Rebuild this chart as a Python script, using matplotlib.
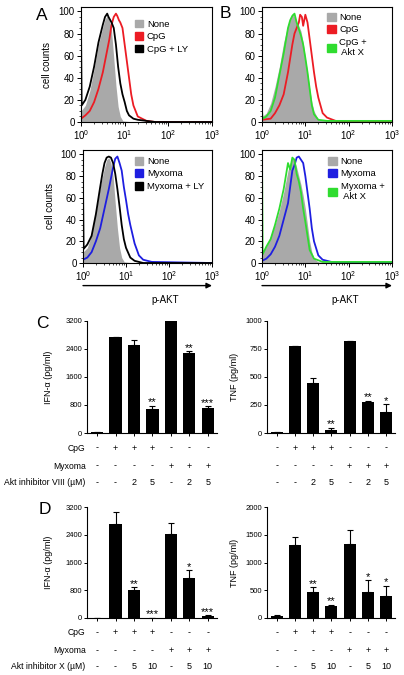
import matplotlib
matplotlib.use('Agg')
import matplotlib.pyplot as plt
from matplotlib.patches import Patch
from matplotlib.ticker import MultipleLocator, NullFormatter
import numpy as np

plt.rcParams['font.family'] = ['Liberation Sans', 'DejaVu Sans']
plt.rcParams['axes.linewidth'] = 0.8

# ---- histogram data (x in log10 units, y = cell counts) ----
none_a_x = [0, 0.1, 0.2, 0.3, 0.4, 0.5, 0.55, 0.6, 0.65, 0.7, 0.75, 0.8, 0.85, 0.9, 0.96, 1.2, 3.0]
none_a_y = [10, 15, 28, 48, 70, 86, 93, 96, 92, 82, 58, 33, 14, 5, 1, 0, 0]
cpg_a_x = [0, 0.1, 0.2, 0.3, 0.4, 0.5, 0.6, 0.65, 0.7, 0.75, 0.8, 0.83, 0.87, 0.9, 0.95, 1.0, 1.05, 1.1, 1.15, 1.2, 1.3, 1.5, 1.7, 3.0]
cpg_a_y = [3, 6, 10, 18, 30, 45, 65, 75, 88, 95, 98, 96, 92, 90, 85, 70, 55, 40, 25, 15, 5, 1, 0, 0]
cpgly_a_x = [0, 0.015, 0.1, 0.2, 0.3, 0.4, 0.5, 0.55, 0.6, 0.63, 0.7, 0.75, 0.8, 0.85, 0.9, 0.95, 1.0, 1.05, 1.1, 1.2, 1.3, 1.5, 1.7, 3.0]
cpgly_a_y = [88, 15, 20, 32, 50, 72, 88, 95, 98, 95, 90, 85, 70, 50, 35, 25, 18, 10, 6, 3, 2, 1, 0, 0]

none_b_x = [0, 0.1, 0.2, 0.3, 0.4, 0.5, 0.6, 0.65, 0.7, 0.75, 0.8, 0.85, 0.9, 0.95, 1.0, 1.05, 1.1, 1.15, 1.2, 1.3, 3.0]
none_b_y = [5, 8, 17, 32, 50, 72, 88, 94, 98, 95, 90, 87, 82, 72, 58, 45, 30, 18, 10, 2, 0]
cpg_b_x = [0, 0.2, 0.3, 0.4, 0.5, 0.6, 0.7, 0.75, 0.8, 0.85, 0.88, 0.92, 0.95, 1.0, 1.05, 1.1, 1.15, 1.2, 1.25, 1.3, 1.4, 1.5, 1.7, 3.0]
cpg_b_y = [2, 3, 8, 15, 25, 45, 70, 80, 85, 90, 97, 95, 87, 97, 90, 75, 60, 45, 32, 22, 8, 4, 1, 0]
aktx_b_x = [0, 0.015, 0.1, 0.2, 0.3, 0.4, 0.5, 0.6, 0.65, 0.7, 0.75, 0.8, 0.85, 0.9, 0.95, 1.0, 1.05, 1.1, 1.15, 1.2, 1.3, 1.5, 2.0, 3.0]
aktx_b_y = [10, 3, 5, 10, 22, 42, 62, 85, 92, 96, 98, 90, 84, 78, 70, 58, 45, 30, 15, 7, 2, 1, 1, 1]

none_c_x = [0, 0.1, 0.2, 0.3, 0.4, 0.5, 0.55, 0.6, 0.65, 0.7, 0.75, 0.8, 0.85, 0.9, 0.96, 1.2, 3.0]
none_c_y = [10, 14, 26, 46, 70, 88, 95, 97, 92, 80, 55, 32, 14, 5, 1, 0, 0]
myx_c_x = [0, 0.1, 0.2, 0.3, 0.4, 0.5, 0.6, 0.65, 0.7, 0.75, 0.8, 0.85, 0.9, 0.95, 1.0, 1.05, 1.1, 1.2, 1.3, 1.4, 1.6, 3.0]
myx_c_y = [3, 5, 10, 20, 32, 50, 68, 78, 88, 96, 98, 92, 85, 70, 58, 45, 35, 18, 7, 3, 1, 0]
myxly_c_x = [0, 0.015, 0.1, 0.2, 0.3, 0.4, 0.45, 0.5, 0.55, 0.6, 0.65, 0.7, 0.75, 0.8, 0.85, 0.9, 0.95, 1.0, 1.1, 1.2, 1.4, 3.0]
myxly_c_y = [72, 13, 17, 25, 45, 70, 82, 92, 97, 98, 97, 92, 82, 68, 52, 35, 22, 14, 5, 2, 0, 0]

none_d_x = [0, 0.1, 0.2, 0.3, 0.4, 0.5, 0.6, 0.65, 0.7, 0.75, 0.8, 0.85, 0.9, 0.95, 1.0, 1.05, 1.1, 1.15, 1.2, 1.3, 3.0]
none_d_y = [8, 15, 25, 35, 48, 65, 85, 92, 97, 94, 88, 80, 72, 62, 50, 35, 20, 10, 4, 1, 0]
myx_d_x = [0, 0.1, 0.2, 0.3, 0.4, 0.5, 0.6, 0.65, 0.7, 0.75, 0.8, 0.85, 0.9, 0.95, 1.0, 1.05, 1.1, 1.15, 1.2, 1.3, 1.4, 1.6, 3.0]
myx_d_y = [2, 4, 8, 15, 25, 40, 55, 70, 85, 90, 97, 98, 95, 92, 80, 65, 50, 32, 20, 7, 3, 1, 0]
aktx_d_x = [0, 0.015, 0.1, 0.2, 0.3, 0.4, 0.5, 0.55, 0.6, 0.65, 0.7, 0.75, 0.8, 0.85, 0.9, 0.95, 1.0, 1.05, 1.1, 1.2, 1.4, 2.0, 3.0]
aktx_d_y = [100, 8, 15, 22, 35, 50, 68, 80, 92, 86, 97, 95, 82, 75, 65, 50, 38, 25, 12, 4, 1, 1, 1]

# ---- bar data ----
ifn_viii = [15, 2750, 2510, 700, 3190, 2290, 720]
ifn_viii_err = [0, 0, 160, 75, 0, 50, 45]
ifn_viii_sig = ['', '', '', '**', '', '**', '***']
tnf_viii = [5, 776, 445, 28, 825, 275, 190]
tnf_viii_err = [0, 5, 48, 20, 0, 15, 68]
tnf_viii_sig = ['', '', '', '**', '', '**', '*']

ifn_x = [12, 2700, 800, 12, 2410, 1140, 55]
ifn_x_err = [0, 370, 90, 0, 330, 240, 20]
ifn_x_sig = ['', '', '**', '***', '', '*', '***']
tnf_x = [42, 1315, 460, 222, 1330, 466, 390]
tnf_x_err = [18, 150, 90, 18, 263, 210, 195]
tnf_x_sig = ['', '', '**', '**', '', '*', '*']

cpg_row = ['-', '+', '+', '+', '-', '-', '-']
myx_row = ['-', '-', '-', '-', '+', '+', '+']
viii_row = ['-', '-', '2', '5', '-', '2', '5']
x_row = ['-', '-', '5', '10', '-', '5', '10']

GRAY = '#a9a9a9'
RED = '#ec1c24'
BLUE = '#1e1ee0'
GREEN = '#2fdc2f'

W, H = 404, 675
fig = plt.figure(figsize=(W / 100, H / 100), dpi=100)


def box(x0, y0, x1, y1):
    return fig.add_axes([x0 / W, 1 - y1 / H, (x1 - x0) / W, (y1 - y0) / H])


def histo(ax, curves, labels, colors, leg_pos, ylab, arrow):
    gx, gy = curves[0]
    ax.fill_between(10 ** np.array(gx), gy, color=GRAY, lw=0)
    for (cx, cy), c in zip(curves[1:], colors[1:]):
        ax.plot(10 ** np.array(cx), cy, color=c, lw=1.3)
    ax.set_xscale('log')
    ax.set_xlim(1, 1000)
    ax.set_ylim(0, 104)
    ax.set_yticks([0, 20, 40, 60, 80, 100])
    ax.yaxis.set_minor_locator(MultipleLocator(5))
    ax.xaxis.set_minor_formatter(NullFormatter())
    ax.tick_params(labelsize=7, length=3, width=0.7, pad=1.5)
    ax.tick_params(which='minor', length=1.5, width=0.5)
    handles = [Patch(color=c) for c in colors]
    ax.legend(handles, labels, loc='upper left', bbox_to_anchor=leg_pos,
              frameon=False, fontsize=6.8, handlelength=0.9, handleheight=0.9,
              handletextpad=0.4, labelspacing=0.35, borderaxespad=0, borderpad=0)
    if ylab:
        ax.set_ylabel('cell counts', fontsize=7)
        ax.yaxis.set_label_coords(-0.22, 0.5)
    if arrow:
        ax.annotate('', xy=(1, -0.2), xytext=(0, -0.2), xycoords='axes fraction',
                    arrowprops=dict(arrowstyle='-|>', color='black', lw=1,
                                    mutation_scale=8, shrinkA=0, shrinkB=0))
        ax.text(0.64, -0.33, 'p-AKT', transform=ax.transAxes, fontsize=7,
                ha='center', va='center')


histo(box(81, 7, 212, 122), [(none_a_x, none_a_y), (cpg_a_x, cpg_a_y), (cpgly_a_x, cpgly_a_y)],
      ['None', 'CpG', 'CpG + LY'], [GRAY, RED, 'black'], (0.41, 0.89), True, False)
histo(box(262, 7, 392, 122), [(none_b_x, none_b_y), (cpg_b_x, cpg_b_y), (aktx_b_x, aktx_b_y)],
      ['None', 'CpG', 'CpG +\n Akt X'], [GRAY, RED, GREEN], (0.5, 0.95), False, False)
histo(box(83, 150, 212, 263), [(none_c_x, none_c_y), (myx_c_x, myx_c_y), (myxly_c_x, myxly_c_y)],
      ['None', 'Myxoma', 'Myxoma + LY'], [GRAY, BLUE, 'black'], (0.40, 0.94), True, True)
histo(box(262, 150, 392, 263), [(none_d_x, none_d_y), (myx_d_x, myx_d_y), (aktx_d_x, aktx_d_y)],
      ['None', 'Myxoma', 'Myxoma +\n Akt X'], [GRAY, BLUE, GREEN], (0.51, 0.94), False, True)


def bars(ax, vals, errs, sig, ymax, step, ylabel, lab_x, rows, row_names):
    pos = np.arange(len(vals))
    ax.bar(pos, vals, width=0.66, color='black',
           yerr=[np.zeros(len(vals)), errs],
           error_kw=dict(ecolor='black', elinewidth=0.8, capsize=2.2, capthick=0.8))
    ax.set_xlim(-0.55, 6.5)
    ax.set_ylim(0, ymax)
    ax.set_yticks(np.arange(0, ymax + 1, step))
    ax.set_xticks(pos)
    ax.set_xticklabels([])
    for s in ['top', 'right']:
        ax.spines[s].set_visible(False)
    ax.tick_params(labelsize=5.5, length=2.5, width=0.7, pad=1)
    ax.set_ylabel(ylabel, fontsize=6.5)
    ax.yaxis.set_label_coords(lab_x, 0.5)
    for p, v, e, s in zip(pos, vals, errs, sig):
        if s:
            ax.annotate(s, (p, v + e), xytext=(0, -1.2), textcoords='offset points',
                        ha='center', va='bottom', fontsize=8)
    trans = ax.get_xaxis_transform()
    for r, (row, yy) in enumerate(zip(rows, [-0.134, -0.295, -0.44])):
        for p, t in zip(pos, row):
            ax.text(p, yy, t, transform=trans, ha='center', va='center', fontsize=6.5)
        if row_names:
            ax.text(-0.01, yy, row_names[r], transform=ax.transAxes, ha='right',
                    va='center', fontsize=6.2)


bars(box(87, 321, 217, 433), ifn_viii, ifn_viii_err, ifn_viii_sig, 3200, 800,
     'IFN-α (pg/ml)', -0.26, [cpg_row, myx_row, viii_row],
     ['CpG', 'Myxoma', 'Akt inhibitor VIII (µM)'])
bars(box(267, 321, 395, 433), tnf_viii, tnf_viii_err, tnf_viii_sig, 1000, 250,
     'TNF (pg/ml)', -0.22, [cpg_row, myx_row, viii_row], None)
bars(box(87, 507, 217, 618), ifn_x, ifn_x_err, ifn_x_sig, 3200, 800,
     'IFN-α (pg/ml)', -0.26, [cpg_row, myx_row, x_row],
     ['CpG', 'Myxoma', 'Akt inhibitor X (µM)'])
bars(box(267, 507, 395, 618), tnf_x, tnf_x_err, tnf_x_sig, 2000, 500,
     'TNF (pg/ml)', -0.22, [cpg_row, myx_row, x_row], None)

for letter, lx, ly in [('A', 42, 15), ('B', 225, 13), ('C', 42, 323), ('D', 45, 510)]:
    fig.text(lx / W, 1 - ly / H, letter, fontsize=12.5, ha='center', va='center')

fig.savefig('out.png', dpi=100)
